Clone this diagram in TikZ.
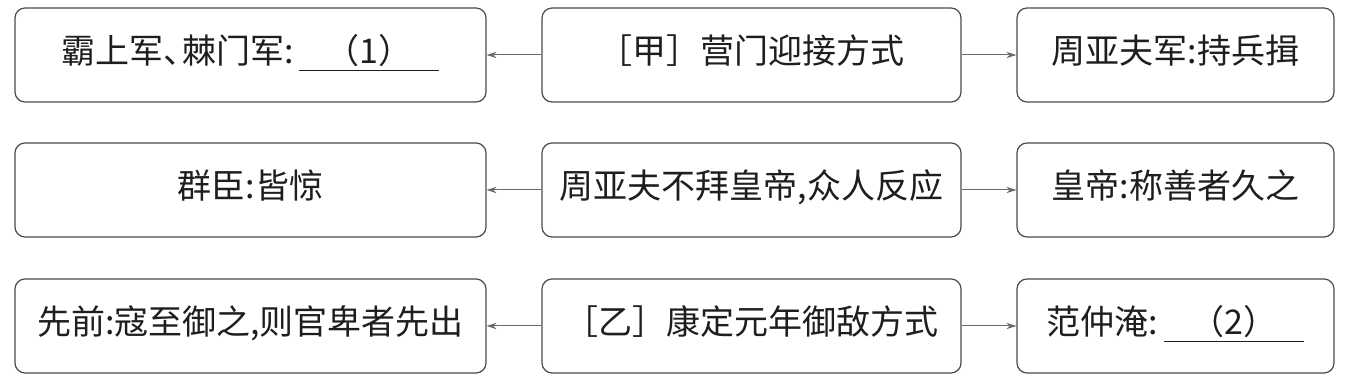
\documentclass[tikz,border=0pt]{standalone}
\usepackage{fontspec}
\setmainfont{Noto Sans CJK SC}
\usetikzlibrary{arrows.meta}
\definecolor{rim}{HTML}{4A4A4A}
\definecolor{ink}{HTML}{1E1E1E}
\definecolor{wire}{HTML}{6A6A6A}
\tikzset{
  card/.style={draw=rim, line width=0.6pt, rounded corners=5pt, align=center,
               minimum height=47pt, inner sep=2pt, text=ink,
               text height=13pt, text depth=4pt, font=\fontsize{17}{20}\selectfont},
  link/.style={-{Stealth[length=5pt, width=3.2pt, inset=1.6pt]}, line width=0.5pt, wire},
}
\newcommand{\blank}[1]{\,\underline{\makebox[70pt]{#1}}}

\begin{document}
\begin{tikzpicture}[x=0.5pt, y=-0.5pt]
    \useasboundingbox (0,0) rectangle (1356,383);
    \foreach \r/\y/\a/\b/\c in {1/55/{霸上军、\kern-0.45em 棘门军:\blank{（1）}}/{［甲］营门迎接方式}/{周亚夫军:持兵揖},
                                2/190/{群臣:皆惊}/{周亚夫不拜皇帝,众人反应}/{皇帝:称善者久之},
                                3/326/{先前:寇至御之,则官卑者先出}/{［乙］康定元年御敌方式}/{范仲淹:\blank{（2）}}}
      { \node[card, minimum width=235.5pt] (side\r) at (250.5,\y) {\a};
        \node[card, minimum width=209.5pt] (mode\r) at (751.5,\y) {\b};
        \node[card, minimum width=158.5pt] (resp\r) at (1175.5,\y) {\c};
        \draw[link] (mode\r) -- (side\r);
        \draw[link] (mode\r) -- (resp\r); }
  \end{tikzpicture}
\end{document}
